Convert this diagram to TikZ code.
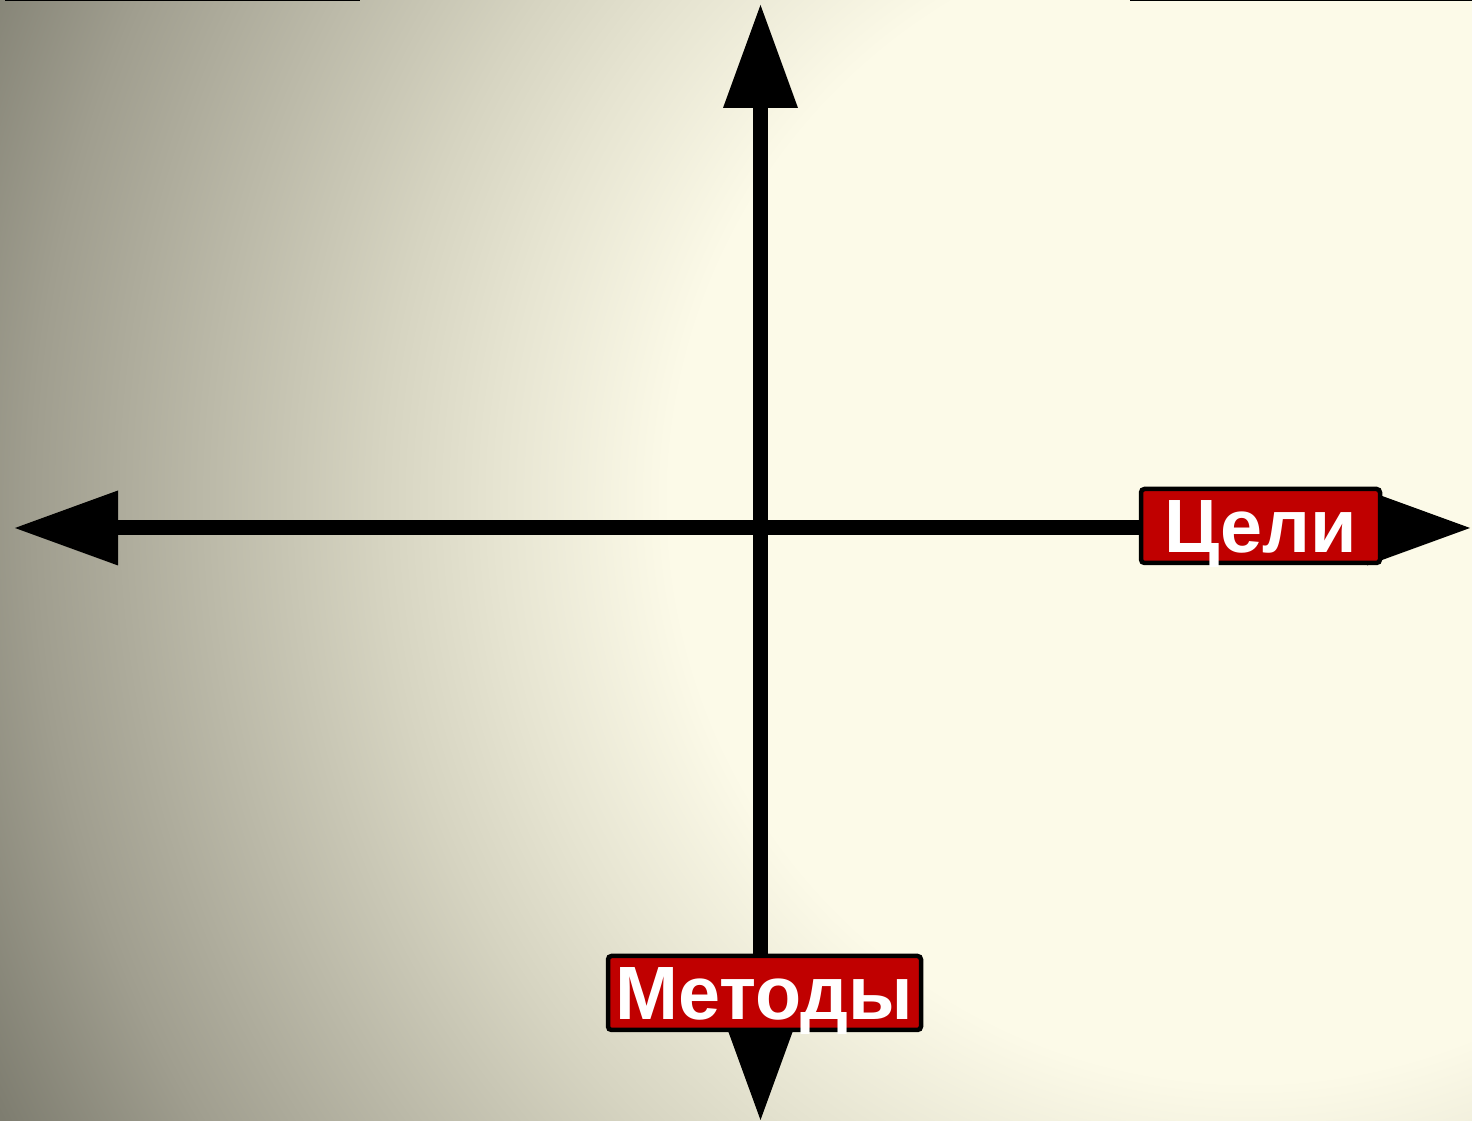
\documentclass[tikz,border=0pt]{standalone}
\usepackage{fontspec}
\setmainfont{Liberation Sans}
\usepackage{xcolor}
\usepackage{tikz}
\usetikzlibrary{arrows.meta, positioning}

\definecolor{bgcream}{HTML}{FCFAE8}
\definecolor{bglight}{HTML}{E6E4D1}
\definecolor{bgmid}{HTML}{D6D4C1}
\definecolor{bgdark}{HTML}{A09E8F}
\definecolor{bgdeep}{HTML}{7E7D70}
\definecolor{tagred}{HTML}{C00000}

\pgfdeclareradialshading{bgglow}{\pgfpoint{0bp}{0bp}}{color(0bp)=(bgcream); color(10bp)=(bgcream); color(13bp)=(bglight); color(15bp)=(bgmid); color(21bp)=(bgdark); color(24bp)=(bgdeep); color(50bp)=(bgdeep)}

\begin{document}
\begin{tikzpicture}[
  axis/.style={line width=0.15cm, {Triangle[length=1.03cm, width=0.75cm, line width=0pt]}-{Triangle[length=1.03cm, width=0.75cm, line width=0pt]}},
  tag/.style={draw=black, line width=0.045cm, fill=tagred, text=white, font=\bfseries\fontsize{21.5}{26}\selectfont, inner sep=0pt, minimum height=0.74cm, text height=0.54cm, text depth=0pt, rounded corners=1pt}
]
% Background
\useasboundingbox (0,0) rectangle (14.72,11.21);
\begin{scope}
  \clip (0,0) rectangle (14.72,11.21);
  \shade[shading=bgglow] (12.5,6.2) circle (14.5);
\end{scope}

% Thin rules at the top edge
\draw[line width=0.03cm, black] (0.05,11.21) -- (3.6,11.21);
\draw[line width=0.03cm, black] (11.3,11.21) -- (14.72,11.21);

% Axis ends
\coordinate (west) at (0.15,5.93);
\coordinate (east) at (14.70,5.93);
\coordinate (north) at (7.605,11.16);
\coordinate (south) at (7.605,0.01);

\draw[axis] (west) -- (east);
\draw[axis] (south) -- (north);

% Labels
\node[tag, minimum width=2.39cm] (goals) at (12.605,5.95) {Цели};
\node[tag, minimum width=3.13cm] (methods) at (7.645,1.28) {Методы};
\end{tikzpicture}
\end{document}
